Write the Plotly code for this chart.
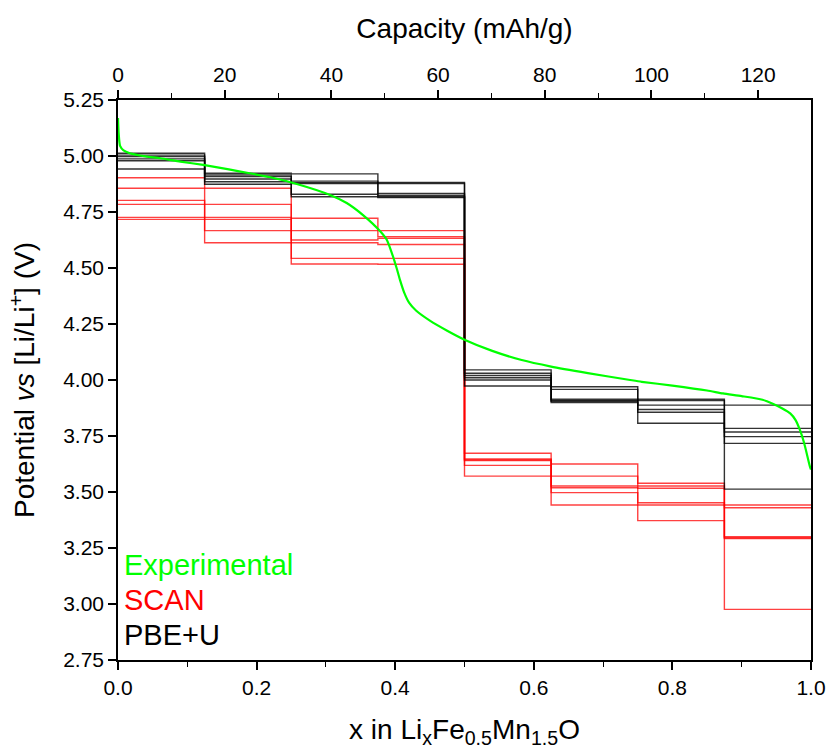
import plotly.graph_objects as go

# Step boundaries (x in LixFe0.5Mn1.5O4)
x_steps = [0.0, 0.125, 0.25, 0.375, 0.5, 0.625, 0.75, 0.875, 1.0]

# PBE+U step voltages (one list per configuration, 8 steps)
pbe_1 = [5.012, 4.923, 4.920, 4.882, 4.045, 3.970, 3.914, 3.888]
pbe_2 = [5.004, 4.915, 4.888, 4.877, 4.030, 3.958, 3.908, 3.784]
pbe_3 = [4.997, 4.908, 4.881, 4.833, 4.020, 3.914, 3.888, 3.768]
pbe_4 = [4.987, 4.897, 4.877, 4.825, 4.010, 3.908, 3.868, 3.747]
pbe_5 = [4.979, 4.885, 4.829, 4.818, 4.000, 3.905, 3.856, 3.717]
pbe_6 = [4.942, 4.874, 4.818, 4.815, 3.973, 3.899, 3.807, 3.513]

# SCAN step voltages
scan_1 = [4.903, 4.856, 4.722, 4.667, 3.673, 3.625, 3.539, 3.442]
scan_2 = [4.856, 4.784, 4.667, 4.640, 3.648, 3.571, 3.527, 3.430]
scan_3 = [4.802, 4.726, 4.625, 4.633, 3.644, 3.527, 3.517, 3.300]
scan_4 = [4.784, 4.717, 4.613, 4.605, 3.640, 3.519, 3.452, 3.296]
scan_5 = [4.726, 4.667, 4.543, 4.543, 3.619, 3.497, 3.442, 3.292]
scan_6 = [4.717, 4.613, 4.518, 4.517, 3.571, 3.442, 3.372, 2.976]

# Experimental curve
exp_x = [0.0, 0.001, 0.003, 0.008, 0.017, 0.04, 0.061, 0.09, 0.123, 0.16, 0.19, 0.22,
         0.258, 0.306, 0.33, 0.354, 0.378, 0.388, 0.397, 0.402, 0.407, 0.413, 0.42,
         0.43, 0.45, 0.475, 0.5, 0.54, 0.5825, 0.625, 0.678, 0.739, 0.7557, 0.8, 0.85,
         0.873, 0.9, 0.93, 0.9456, 0.958, 0.970, 0.978, 0.984, 0.99, 0.9985, 1.0]
exp_v = [5.17, 5.10, 5.045, 5.025, 5.012, 4.998, 4.99, 4.975, 4.96, 4.94, 4.923, 4.905,
         4.875, 4.826, 4.79, 4.735, 4.665, 4.625, 4.55, 4.50, 4.446, 4.39, 4.345,
         4.31, 4.265, 4.22, 4.18, 4.13, 4.089, 4.06, 4.031, 4.0, 3.992, 3.975, 3.953,
         3.94, 3.928, 3.912, 3.893, 3.874, 3.851, 3.82, 3.777, 3.72, 3.613, 3.60]

y_ticks = [2.75, 3.00, 3.25, 3.50, 3.75, 4.00, 4.25, 4.50, 4.75, 5.00, 5.25]
x_ticks = [0.0, 0.2, 0.4, 0.6, 0.8, 1.0]
cap_ticks = [0, 20, 40, 60, 80, 100, 120]
cap_max = 129.9

FONT = "Liberation Sans, Arial, sans-serif"

fig = go.Figure()

for curve in [scan_1, scan_2, scan_3, scan_4, scan_5, scan_6]:
    fig.add_trace(go.Scatter(x=x_steps, y=curve + [curve[-1]], mode="lines",
                             line=dict(color="rgba(255,0,0,0.75)", width=1.4, shape="hv"),
                             showlegend=False, hoverinfo="skip"))
for curve in [pbe_1, pbe_2, pbe_3, pbe_4, pbe_5, pbe_6]:
    fig.add_trace(go.Scatter(x=x_steps, y=curve + [curve[-1]], mode="lines",
                             line=dict(color="rgba(0,0,0,0.8)", width=1.4, shape="hv"),
                             showlegend=False, hoverinfo="skip"))

fig.add_trace(go.Scatter(x=exp_x, y=exp_v, mode="lines",
                         line=dict(color="#00ff00", width=2.2, shape="spline", smoothing=0.6),
                         showlegend=False, hoverinfo="skip"))

# invisible trace to activate top axis
fig.add_trace(go.Scatter(x=[0, cap_max], y=[None, None], xaxis="x2", mode="lines",
                         showlegend=False, hoverinfo="skip"))

axis_common = dict(showline=True, linecolor="black", linewidth=1.6, ticks="outside",
                   tickcolor="black", tickwidth=1.6, ticklen=8, showgrid=False,
                   zeroline=False, automargin=False,
                   tickfont=dict(family=FONT, size=21, color="black"))

TITLE_SIZE = 28

fig.update_layout(
    width=829, height=749,
    margin=dict(l=118, r=18, t=100, b=89),
    plot_bgcolor="white", paper_bgcolor="white",
    xaxis=dict(range=[0, 1], tickvals=x_ticks, ticktext=[f"{v:.1f}" for v in x_ticks],
               minor=dict(dtick=0.1, ticks="outside", ticklen=5, tickcolor="black", tickwidth=1.3),
               title=dict(text="x in Li<sub>x</sub>Fe<sub>0.5</sub>Mn<sub>1.5</sub>O",
                          font=dict(family=FONT, size=TITLE_SIZE, color="black"), standoff=24),
               **axis_common),
    xaxis2=dict(range=[0, cap_max], overlaying="x", side="top", anchor="y",
                tickvals=cap_ticks,
                minor=dict(dtick=10, ticks="outside", ticklen=5, tickcolor="black", tickwidth=1.3),
                title=dict(text="Capacity (mAh/g)",
                           font=dict(family=FONT, size=TITLE_SIZE, color="black"), standoff=16),
                **axis_common),
    yaxis=dict(range=[2.75, 5.25], tickvals=y_ticks, ticktext=[f"{v:.2f}" for v in y_ticks],
               mirror=True,
               title=dict(text="Potential <i>vs</i> [Li/Li<sup>+</sup>] (V)",
                          font=dict(family=FONT, size=TITLE_SIZE, color="black"), standoff=20),
               **axis_common),
)

legend_items = [("Experimental", "#00ff00", 3.174), ("SCAN", "#ff0000", 3.018), ("PBE+U", "black", 2.862)]
for text, color, yv in legend_items:
    fig.add_annotation(x=0.006, y=yv, xref="x", yref="y", text=text, showarrow=False,
                       xanchor="left", yanchor="middle",
                       font=dict(family=FONT, size=29, color=color))

fig.write_html("out.html")
